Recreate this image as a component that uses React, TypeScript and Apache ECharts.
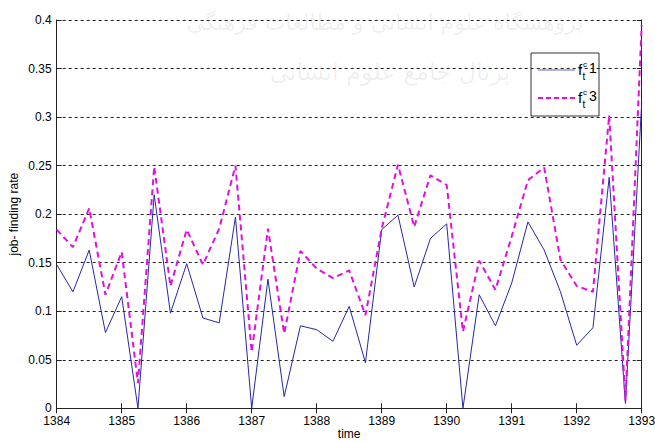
import React, { useEffect, useRef } from "react";
import * as echarts from "echarts";

const times = [
  1384, 1384.25, 1384.5, 1384.75, 1385, 1385.25, 1385.5, 1385.75,
  1386, 1386.25, 1386.5, 1386.75, 1387, 1387.25, 1387.5, 1387.75,
  1388, 1388.25, 1388.5, 1388.75, 1389, 1389.25, 1389.5, 1389.75,
  1390, 1390.25, 1390.5, 1390.75, 1391, 1391.25, 1391.5, 1391.75,
  1392, 1392.25, 1392.5, 1392.75, 1393,
];
const series1 = [
  0.148, 0.12, 0.163, 0.078, 0.115, 0.0, 0.22, 0.098,
  0.149, 0.093, 0.088, 0.197, 0.0, 0.133, 0.012, 0.085,
  0.081, 0.069, 0.105, 0.047, 0.184, 0.199, 0.125, 0.175,
  0.19, 0.0, 0.117, 0.085, 0.129, 0.192, 0.163, 0.12,
  0.065, 0.083, 0.238, 0.005, 0.315,
];
const series3 = [
  0.184, 0.166, 0.206, 0.117, 0.161, 0.026, 0.249, 0.126,
  0.184, 0.148, 0.185, 0.25, 0.058, 0.185, 0.077, 0.162,
  0.144, 0.134, 0.142, 0.096, 0.185, 0.251, 0.187, 0.24,
  0.23, 0.079, 0.152, 0.122, 0.177, 0.235, 0.248, 0.153,
  0.126, 0.12, 0.302, 0.008, 0.395,
];
const yTicks = [0, 0.05, 0.1, 0.15, 0.2, 0.25, 0.3, 0.35, 0.4];
const xTicks = [1384, 1385, 1386, 1387, 1388, 1389, 1390, 1391, 1392, 1393];

const FONT = "Liberation Sans, Arial, sans-serif";

export default function App() {
  const ref = useRef<HTMLDivElement>(null);
  useEffect(() => {
    if (!ref.current) return;
    const chart = echarts.init(ref.current, null, { renderer: "svg" });
    const axisLine = { show: true, lineStyle: { color: "#222", width: 1 } };
    const tick = { show: true, inside: true, length: 5, lineStyle: { color: "#222" } };
    const d1 = times.map((t, i) => [t, series1[i]]);
    const d3 = times.map((t, i) => [t, series3[i]]);
    const xBase = {
      type: "value",
      min: xTicks[0],
      max: xTicks[xTicks.length - 1],
      interval: 1,
      axisLine,
      axisTick: tick,
      splitLine: { show: false },
    };
    const yBase = {
      type: "value",
      min: yTicks[0],
      max: yTicks[yTicks.length - 1],
      interval: 0.05,
      axisLine,
      axisTick: tick,
    };
    const legendItem = (y: number, num: string) => [
      { type: "text", x: 578, y: y - 8, style: { text: "f", font: `15px ${FONT}`, fill: "#000" } },
      { type: "text", x: 583, y: y - 10, style: { text: "c", font: `8px ${FONT}`, fill: "#000" } },
      { type: "text", x: 582.5, y: y + 1, style: { text: "t", font: `10px ${FONT}`, fill: "#000" } },
      { type: "text", x: 589, y: y - 9, style: { text: num, font: `14px ${FONT}`, fill: "#000" } },
    ];
    chart.setOption({
      animation: false,
      backgroundColor: "#fff",
      grid: {
        left: 56.7,
        right: 13.3,
        top: 20,
        bottom: 33.7,
        containLabel: false,
        outerBoundsMode: "none",
      },
      xAxis: [
        {
          ...xBase,
          position: "bottom",
          axisLabel: {
            color: "#000",
            fontFamily: FONT,
            fontSize: 12,
            margin: 7,
            lineHeight: 12,
            formatter: (v: number) => String(v),
          },
          name: "time",
          nameLocation: "middle",
          nameGap: 20,
          nameMoveOverlap: false,
          nameTextStyle: { color: "#000", fontFamily: FONT, fontSize: 12, lineHeight: 12 },
        },
        { ...xBase, position: "top", axisLabel: { show: false } },
      ],
      yAxis: [
        {
          ...yBase,
          position: "left",
          axisLabel: { color: "#000", fontFamily: FONT, fontSize: 12, margin: 5, lineHeight: 11 },
          splitLine: { show: true, lineStyle: { color: "#222", type: [3, 3], width: 1 } },
          name: "job- finding rate",
          nameLocation: "middle",
          nameGap: 37,
          nameMoveOverlap: false,
          nameTextStyle: { color: "#000", fontFamily: FONT, fontSize: 12 },
        },
        { ...yBase, position: "right", axisLabel: { show: false }, splitLine: { show: false } },
      ],
      series: [
        {
          name: "f1",
          type: "line",
          data: d1,
          symbol: "none",
          lineStyle: { color: "#2626a8", width: 1 },
          z: 3,
        },
        {
          name: "f3",
          type: "line",
          data: d3,
          symbol: "none",
          lineStyle: { color: "#e010e0", width: 2, type: [6, 4] },
          z: 4,
        },
      ],
      graphic: [
        {
          type: "text",
          x: 385,
          y: 22,
          z: 0,
          style: {
            text: "پژوهشگاه علوم انسانی و مطالعات فرهنگی",
            font: "22px DejaVu Sans",
            fill: "rgba(0,0,0,0.07)",
            textAlign: "center",
            textVerticalAlign: "middle",
          },
        },
        {
          type: "text",
          x: 390,
          y: 72,
          z: 0,
          style: {
            text: "پرتال جامع علوم انسانی",
            font: "24px DejaVu Sans",
            fill: "rgba(0,0,0,0.07)",
            textAlign: "center",
            textVerticalAlign: "middle",
          },
        },
        {
          type: "group",
          z: 10,
          children: [
            {
              type: "rect",
              shape: { x: 531, y: 53, width: 68, height: 63 },
              style: { fill: "#fff", stroke: "#333", lineWidth: 1 },
            },
            {
              type: "line",
              shape: { x1: 538, y1: 70, x2: 575, y2: 70 },
              style: { stroke: "#6666c4", lineWidth: 1 },
            },
            {
              type: "line",
              shape: { x1: 538, y1: 98, x2: 575, y2: 98 },
              style: { stroke: "#e010e0", lineWidth: 2, lineDash: [5, 3] },
            },
            ...legendItem(70, "1"),
            ...legendItem(98, "3"),
          ],
        },
      ],
    });
    return () => chart.dispose();
  }, []);
  return <div ref={ref} style={{ width: 655, height: 442, position: "absolute", left: 0, top: 0 }} />;
}
